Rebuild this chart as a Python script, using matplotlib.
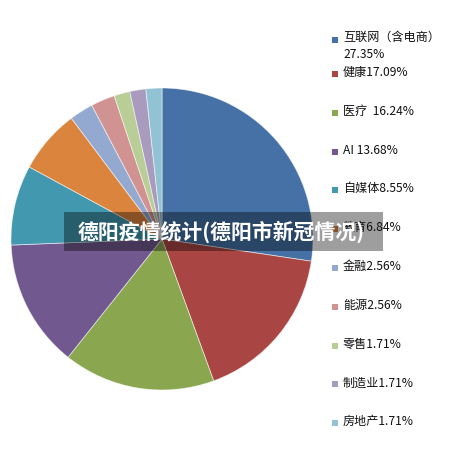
import matplotlib
matplotlib.use("Agg")
import matplotlib.pyplot as plt
from matplotlib.patches import Rectangle

plt.rcParams['font.family'] = ['Noto Sans CJK SC', 'DejaVu Sans']

# data
categories = ["互联网（含电商）", "健康", "医疗", "AI", "自媒体", "教育",
              "金融", "能源", "零售", "制造业", "房地产"]
shares = [27.35, 17.09, 16.24, 13.68, 8.55, 6.84, 2.56, 2.56, 1.71, 1.71, 1.71]
legend_labels = ["互联网（含电商）\n27.35%", "健康17.09%", "医疗  16.24%", "AI 13.68%",
                 "自媒体8.55%", "教育6.84%", "金融2.56%", "能源2.56%",
                 "零售1.71%", "制造业1.71%", "房地产1.71%"]
colors = ["#4571A6", "#A94643", "#8AA64F", "#71588F", "#4198AF", "#DB843D",
          "#93A9CF", "#D19392", "#B9CD96", "#A99BBD", "#92C3D4"]
title = "德阳疫情统计(德阳市新冠情况)"

W, H = 451, 463
fig = plt.figure(figsize=(W / 100, H / 100), dpi=100)

# pie: center (162, 239), radius 151 px
ax = fig.add_axes([11 / W, (H - 390) / H, 302 / W, 302 / H])
ax.pie(shares, colors=colors, startangle=90, counterclock=False, radius=1,
       wedgeprops=dict(edgecolor=(1, 1, 1, 0.6), linewidth=0.6))
ax.set_xlim(-1, 1)
ax.set_ylim(-1, 1)
ax.set_aspect('equal')
ax.axis('off')

# overlay in pixel coords for legend and title banner
ov = fig.add_axes([0, 0, 1, 1])
ov.set_xlim(0, W)
ov.set_ylim(H, 0)
ov.axis('off')

for i, (lab, c) in enumerate(zip(legend_labels, colors)):
    if i == 0:
        y = 40
    else:
        y = 74 + 38.8 * (i - 1)
    ov.add_patch(Rectangle((332, y - 3), 6, 6, facecolor=c, edgecolor='none'))
    if i == 0:
        ov.text(343, 37, lab.split("\n")[0], fontsize=8.7, color='#111111',
                va='center', ha='left')
        ov.text(343, 54, lab.split("\n")[1], fontsize=8.7, color='#111111',
                va='center', ha='left')
    else:
        ov.text(343, y - 1.5, lab, fontsize=8.7, color='#111111', va='center', ha='left')

ov.add_patch(Rectangle((64, 212), 319, 39, facecolor=(0, 0, 0, 0.38), edgecolor='none'))
ov.text(221, 231.5, title, fontsize=15, fontweight='bold', color='white',
        ha='center', va='center')

fig.savefig("out.png", dpi=100)
